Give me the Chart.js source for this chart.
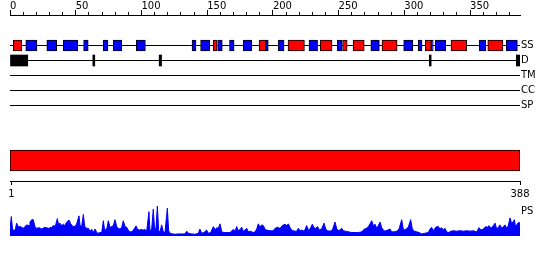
<!DOCTYPE html>
<html><head><meta charset="utf-8">
<script src="https://cdn.jsdelivr.net/npm/chart.js@4.4.1/dist/chart.umd.min.js"></script>
<style>
html,body{margin:0;padding:0;background:#fff;}
#wrap{position:relative;width:550px;height:260px;overflow:hidden;background:#fff;}
canvas{position:absolute;left:0;}
</style></head><body>
<div id="wrap">
<canvas id="tracks" width="550" height="120" style="top:0px"></canvas>
<canvas id="major" width="550" height="120" style="top:0px"></canvas>
<canvas id="domain" width="550" height="85" style="top:120px"></canvas>
<canvas id="ps" width="550" height="60" style="top:200px"></canvas>
</div>
<script>
// ---------- data ----------
const seqLength = 388;
const trackNames = ['SS', 'D', 'TM', 'CC', 'SP'];
const minorTicks = [0,10,20,30,40,50,60,70,80,90,100,110,120,130,140,150,160,170,180,190,200,210,220,230,240,250,260,270,280,290,300,310,320,330,340,350,360,370,380];
const majorTicks = [0,50,100,150,200,250,300,350];
const bottomTicks = [1, 388];

// secondary structure elements (H = red, E = blue)
const ssStart = [2.5,12,28,40.5,56,71,78.5,96,138.5,145,154.5,158,167,177.5,189.5,194.5,204,211.5,227.5,236,249,253,261,274.5,283,299.5,310.5,316,320.5,323.5,335.5,357,363.5,377.5];
const ssEnd   = [9,20.5,35.5,51.5,59.5,74.5,85,103,141.5,152,157.5,161.5,170.5,184,194.5,196.5,208.5,224,234,245,252.5,256.5,269.5,281,294.5,306.5,313.5,320.5,322,331.5,347.5,362,375,386];
const ssType  = ['H','E','E','E','E','E','E','E','E','E','H','E','E','E','H','E','E','H','E','H','E','H','H','E','H','E','E','H','E','E','H','E','H','E'];

// disorder segments
const dStart = [0, 63, 113.5, 319, 385.2];
const dEnd   = [13.5, 64.5, 115.3, 320.4, 388];

// domain bar
const domainStart = [0];
const domainEnd = [388];

// PS profile
const psPos = [0,1,2,4,5,6.3,8,10,12.7,14.5,15.2,16.5,17.7,19,20.3,22.3,24,26.6,29.2,31.7,33,34.5,36,37,38,39.3,40.6,41.8,43.1,44.9,46.2,47.7,49.5,50.7,52.5,53.3,54.5,55.8,56.8,58.3,59.6,60.9,62.2,63.4,64.7,66,67.2,68.5,69.8,71,72,73.6,74.8,76.1,77.4,78.6,79.9,81.2,82.4,83.7,85,86.2,87.5,88.8,90,91.3,92.6,93.8,95.9,96.9,98.4,100.2,101.4,102.7,104,105.7,106.5,107.8,109,110.1,111.1,112.1,113.1,114.1,115.4,116.6,117.9,119.7,120.7,121.7,123.8,125.5,128,130.6,133.1,134.4,135.7,138.2,140.7,143.3,144.5,145.8,147.6,149.6,150.9,152.7,154.7,156,157.3,158.5,159.8,161.1,162.8,164.9,167.4,169.9,171.2,172.5,173.7,175,176.3,177.5,178.8,180.1,181.3,182.6,183.9,185.1,186.4,187.7,188.9,190.2,191.5,192.7,194,195.3,197.8,200.3,201.6,203.6,205.4,207.2,209.2,210.5,211.8,213,214.3,215.5,216.8,218.1,219.4,220.6,221.9,223.9,225.7,227,228.2,230,231.3,232.6,234.1,235.3,237.1,238.9,240.2,241.7,243.5,245.2,247.3,248.6,250.3,252.4,253.6,254.9,257.4,260,262.5,265,267.6,269.6,271.1,272.6,273.9,275.2,276.4,277.7,279,280.2,281.5,282.8,284,285.3,287.3,289.1,290.4,292.4,294.2,296,298,299.2,300.5,301.8,303,304.8,306.1,307.6,309.4,311.2,313.2,315.7,318.3,319.5,320.8,322,323.3,324.6,325.9,327.1,328.4,329.7,330.9,332.2,333.5,335.5,337.3,339.8,342.4,344.9,347.5,350,352.5,355.1,356.8,358.3,360.1,361.9,363.4,364.4,366,367.7,369,370.3,371.5,372.8,374.1,375.3,376.6,377.9,379.1,380.4,381.7,382.9,383.7,384.7,386,387.3,388];
const psVal = [20,56,17,17,37,27,27,22,32,30,40,47,47,27,22,24,20,25,22,25,30,28,50,32,37,30,34,30,40,46,35,28,27,35,58,30,27,62,28,22,22,14,19,10,20,10,8,10,10,44,17,20,44,25,27,30,47,27,22,20,25,44,27,25,17,12,12,17,29,20,17,19,17,19,14,70,15,20,77,15,25,86,15,12,32,12,10,80,15,8,6,5,6,6,6,14,8,6,5,8,20,8,10,17,8,10,27,18,24,22,35,12,10,10,10,19,14,27,15,19,25,14,17,22,12,14,12,10,12,20,35,25,32,30,20,17,15,15,22,25,22,30,34,30,35,25,17,15,14,14,22,15,17,14,30,17,20,34,24,22,27,17,20,37,20,15,14,17,40,20,15,22,15,14,12,10,10,10,12,20,22,27,35,44,30,34,22,30,40,24,17,14,17,20,12,12,14,20,47,20,17,22,25,47,20,14,12,10,6,8,10,20,25,15,22,27,27,20,24,17,22,12,10,14,15,14,15,14,15,14,15,12,24,17,20,27,25,30,22,30,37,20,25,32,22,27,32,22,30,52,35,42,47,25,35,40,30];

// ---------- layout / style ----------
const FONT = { family: 'DejaVu Sans', size: 10 };
const RED = '#ff0000', BLUE = '#0000ff', BLACK = '#000000';
Chart.defaults.font = FONT;
Chart.defaults.color = BLACK;

const trackYMin = -61 / 30;          // first track row 30.5px under the axis
const trackYMax = trackYMin + 7;     // 15px per track

const basePlugins = { legend: { display: false }, tooltip: { enabled: false } };

function noPad(s) { s.paddingTop = 0; s.paddingBottom = 0; }

function trackScales(major) {
  return {
    x: {
      type: 'linear', position: 'top', min: 0, max: seqLength, offset: false,
      afterBuildTicks: s => { s.ticks = (major ? majorTicks : minorTicks).map(v => ({ value: v })); },
      afterFit: s => { s.height = 15; },
      grid: { display: true, offset: false, drawOnChartArea: false, drawTicks: true, tickLength: major ? 5 : 3, color: BLACK, lineWidth: 1 },
      border: { display: true, color: BLACK, width: 1 },
      ticks: { display: major, autoSkip: false, maxRotation: 0, minRotation: 0, align: 'start', padding: -2, color: BLACK, font: FONT }
    },
    y: {
      type: 'linear', position: 'right', reverse: true, min: trackYMin, max: trackYMax,
      offset: false, bounds: 'data',
      afterBuildTicks: s => { s.ticks = trackNames.map((n, i) => ({ value: i })); },
      afterFit: s => { s.width = 30; noPad(s); },
      grid: { display: false, drawTicks: false, offset: false }, border: { display: false },
      ticks: { display: !major, padding: 1, color: BLACK, font: FONT, callback: v => trackNames[v] ?? '' }
    }
  };
}

const trackLines = trackNames.map((n, i) => ({
  type: 'line', indexAxis: 'x', label: n,
  data: [{ x: 0, y: i }, { x: seqLength, y: i }],
  borderColor: BLACK, borderWidth: 1, pointRadius: 0, fill: false, order: 5
}));

new Chart(document.getElementById('tracks'), {
  type: 'bar',
  data: {
    datasets: [
      {
        type: 'bar', label: 'SS',
        data: ssStart.map((s, i) => ({ x: [s, ssEnd[i]], y: 0 })),
        backgroundColor: ssType.map(t => t === 'H' ? RED : BLUE),
        borderColor: BLACK, borderWidth: 1, borderSkipped: false,
        grouped: false, barThickness: 11, maxBarThickness: 11, order: 0
      },
      {
        type: 'bar', label: 'D',
        data: dStart.map((s, i) => ({ x: [s, dEnd[i]], y: 1 })),
        backgroundColor: BLACK, borderColor: BLACK, borderWidth: 0, borderSkipped: false,
        grouped: false, barThickness: 11, maxBarThickness: 11, order: 0
      },
      ...trackLines
    ]
  },
  options: {
    indexAxis: 'y', responsive: false, animation: false, events: [],
    layout: { padding: { left: 10, right: 0, top: 0, bottom: 0 } },
    plugins: basePlugins,
    scales: trackScales(false)
  }
});

new Chart(document.getElementById('major'), {
  type: 'bar',
  data: { datasets: [] },
  options: {
    indexAxis: 'y', responsive: false, animation: false, events: [],
    layout: { padding: { left: 10, right: 0, top: 0, bottom: 0 } },
    plugins: basePlugins,
    scales: trackScales(true)
  }
});

new Chart(document.getElementById('domain'), {
  type: 'bar',
  data: {
    labels: ['domain'],
    datasets: [{
      data: domainStart.map((s, i) => [s, domainEnd[i]]),
      backgroundColor: RED, borderColor: BLACK, borderWidth: 1, borderSkipped: false,
      barThickness: 21
    }]
  },
  options: {
    indexAxis: 'y', responsive: false, animation: false, events: [],
    layout: { padding: { left: 10, right: 30, top: 20, bottom: 0 } },
    plugins: basePlugins,
    scales: {
      x: {
        type: 'linear', position: 'bottom', min: 0, max: seqLength,
        afterBuildTicks: s => { s.ticks = bottomTicks.map(v => ({ value: v })); },
        afterFit: s => { s.height = 24; },
        grid: { display: true, drawOnChartArea: false, drawTicks: true, tickLength: 4, color: BLACK, lineWidth: 1 },
        border: { display: true, color: BLACK, width: 1 },
        ticks: { autoSkip: false, maxRotation: 0, minRotation: 0, padding: 3, color: BLACK, font: FONT }
      },
      y: { type: 'category', offset: true, display: false }
    }
  }
});

new Chart(document.getElementById('ps'), {
  type: 'line',
  data: {
    datasets: [{
      label: 'PS',
      data: psPos.map((p, i) => ({ x: p, y: psVal[i] })),
      fill: 'origin', backgroundColor: BLUE, borderColor: BLUE, borderWidth: 1,
      pointRadius: 0, tension: 0
    }]
  },
  options: {
    responsive: false, animation: false, events: [],
    layout: { padding: { left: 10, right: 0, top: 3, bottom: 24 } },
    plugins: basePlugins,
    scales: {
      x: { type: 'linear', min: 0, max: seqLength, display: false },
      y: {
        type: 'linear', position: 'right', min: 0, max: 95,
        afterBuildTicks: s => { s.ticks = [{ value: 72 }]; },
        afterFit: s => { s.width = 30; noPad(s); },
        grid: { display: false, drawTicks: false }, border: { display: false },
        ticks: { padding: 1, color: BLACK, font: FONT, callback: () => 'PS' }
      }
    }
  }
});
</script>
</body></html>
